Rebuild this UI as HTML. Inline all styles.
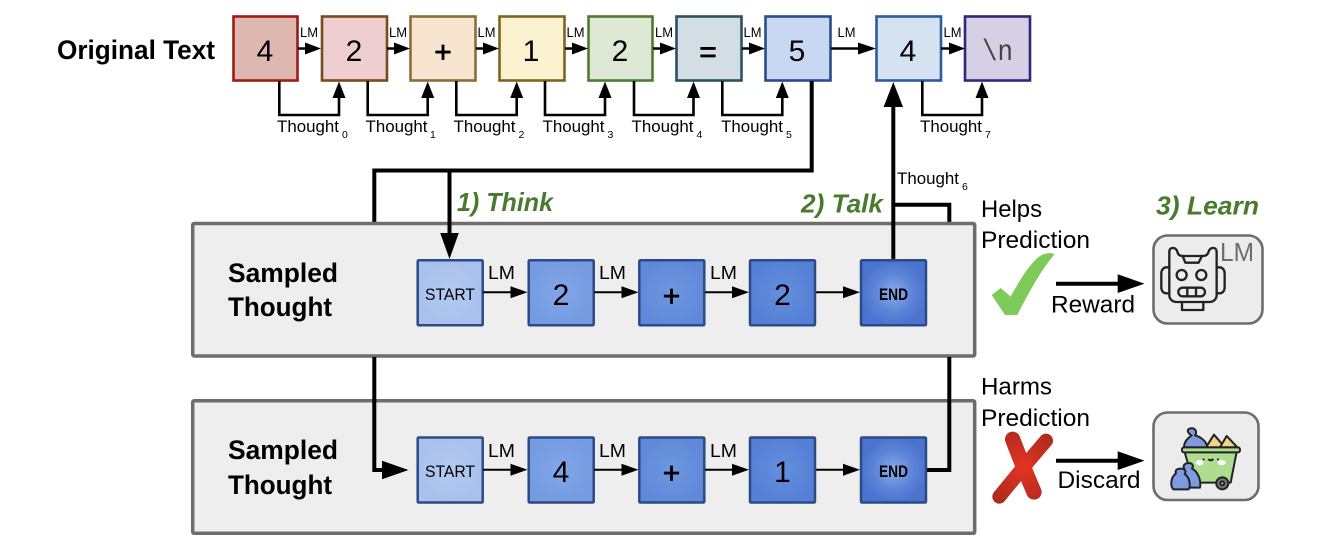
<!DOCTYPE html>
<html><head><meta charset="utf-8"><style>
html,body{margin:0;padding:0;background:#fff}
svg{display:block}
text{font-family:"Liberation Sans",sans-serif;fill:#000}
.d{font-size:30px;text-anchor:middle}
.o{stroke:#000;stroke-width:.7px}
.t{font-size:17px}
.s{font-size:10.5px}
.l{font-size:14px}
.m{font-size:18px}
.b{font-size:27px;font-weight:bold}
.g{font-size:26px;font-weight:bold;font-style:italic;fill:#4a7a2e}
.p{font-size:24px}
.in{stroke:#2c4a85;stroke-width:2.5}
</style></head><body>
<svg width="1322" height="560" viewBox="0 0 1322 560" xmlns="http://www.w3.org/2000/svg">
<defs>
<radialGradient id="g0"><stop offset="0" stop-color="#b4caf0"/><stop offset="1" stop-color="#a8c1ed"/></radialGradient>
<radialGradient id="g1"><stop offset="0" stop-color="#82a6e7"/><stop offset="1" stop-color="#759be2"/></radialGradient>
<radialGradient id="g2"><stop offset="0" stop-color="#6e97e0"/><stop offset="1" stop-color="#6089d9"/></radialGradient>
<radialGradient id="g3"><stop offset="0" stop-color="#6490de"/><stop offset="1" stop-color="#5580d6"/></radialGradient>
<radialGradient id="g4"><stop offset="0" stop-color="#8aabe9"/><stop offset=".6" stop-color="#5c84d8"/><stop offset="1" stop-color="#4a74cf"/></radialGradient>
<radialGradient id="xg" gradientUnits="userSpaceOnUse" cx="190" cy="322" r="130"><stop offset="0" stop-color="#e43323"/><stop offset="1" stop-color="#ac2a1c"/></radialGradient>
</defs>

<text class="b" x="57" y="59" textLength="158" lengthAdjust="spacingAndGlyphs">Original Text</text>

<!-- top boxes -->
<g stroke-width="2.6">
<rect x="233.500" y="16.500" width="64" height="64" fill="#deb8b0" stroke="#9c1c14"/>
<rect x="322" y="16.500" width="65" height="64" fill="#eecece" stroke="#7a4a22"/>
<rect x="410.500" y="16.500" width="65" height="64" fill="#f8e5cf" stroke="#8a6d3a"/>
<rect x="499.500" y="16.500" width="65" height="64" fill="#fdf2cf" stroke="#7f6321"/>
<rect x="588.500" y="16.500" width="64" height="64" fill="#dde9d4" stroke="#4e7a35"/>
<rect x="676.500" y="16.500" width="65" height="64" fill="#d3dee4" stroke="#2c5160"/>
<rect x="765.500" y="16.500" width="65" height="64" fill="#c9d8f2" stroke="#2b4c8c"/>
<rect x="876.500" y="16.500" width="64.500" height="64" fill="#d4e2f1" stroke="#2d5c9a"/>
<rect x="965" y="16.500" width="65" height="64" fill="#d6d0e4" stroke="#35247a"/>
</g>
<text class="d" x="265" y="61">4</text>
<text class="d" x="354" y="61">2</text>
<text class="d o" x="443" y="62">+</text>
<text class="d" x="531" y="61">1</text>
<text class="d" x="620" y="61">2</text>
<text class="d o" x="708" y="62">=</text>
<text class="d" x="797" y="61">5</text>
<text class="d" x="908" y="61">4</text>
<text x="982" y="60" font-size="30" style="fill:#444;font-family:'Liberation Mono',monospace" textLength="31" lengthAdjust="spacingAndGlyphs">\n</text>

<!-- top LM arrows -->
<g stroke="#000" stroke-width="2.6" fill="#000">
<path d="M298 48.500H310M387 48.500H399M476 48.500H487M565 48.500H576M653 48.500H665M742 48.500H754M831 48.500H860M941 48.500H953" fill="none"/>
<g stroke="none">
<path d="M321 48.500L305 42.500V54.500Z"/><path d="M410 48.500L394 42.500V54.500Z"/><path d="M499 48.500L483 42.500V54.500Z"/>
<path d="M588 48.500L572 42.500V54.500Z"/><path d="M676 48.500L660 42.500V54.500Z"/><path d="M765 48.500L749 42.500V54.500Z"/>
<path d="M876 48.500L858 42.500V54.500Z"/><path d="M965 48.500L949 42.500V54.500Z"/>
</g></g>
<g>
<text class="l" x="300" y="37" textLength="18" lengthAdjust="spacingAndGlyphs">LM</text>
<text class="l" x="389" y="37" textLength="18" lengthAdjust="spacingAndGlyphs">LM</text>
<text class="l" x="477.500" y="37" textLength="18" lengthAdjust="spacingAndGlyphs">LM</text>
<text class="l" x="566.500" y="37" textLength="18" lengthAdjust="spacingAndGlyphs">LM</text>
<text class="l" x="655" y="37" textLength="18" lengthAdjust="spacingAndGlyphs">LM</text>
<text class="l" x="743.500" y="37" textLength="18" lengthAdjust="spacingAndGlyphs">LM</text>
<text class="l" x="837.500" y="37" textLength="18" lengthAdjust="spacingAndGlyphs">LM</text>
<text class="l" x="943.500" y="37" textLength="18" lengthAdjust="spacingAndGlyphs">LM</text>
</g>

<!-- thought connectors -->
<g fill="none" stroke="#000" stroke-width="2.6">
<path d="M279.300 81V115H339V96"/><path d="M367.700 81V115H427.700V96"/><path d="M456.300 81V115H516.700V96"/>
<path d="M545 81V115H605V96"/><path d="M634 81V115H693.500V96"/><path d="M722.300 81V115H782.300V96"/>
<path d="M922.300 81V115H982V96"/>
</g>
<g fill="#000">
<path d="M339 81.500L332.500 98H345.500Z"/><path d="M427.700 81.500L421.200 98H434.200Z"/><path d="M516.700 81.500L510.200 98H523.200Z"/>
<path d="M605 81.500L598.500 98H611.500Z"/><path d="M693.500 81.500L687 98H700Z"/><path d="M782.300 81.500L775.800 98H788.800Z"/>
<path d="M982 81.500L975.500 98H988.500Z"/>
</g>
<g>
<text class="t" x="277" y="132" textLength="62" lengthAdjust="spacingAndGlyphs">Thought</text><text class="s" x="342" y="138">0</text>
<text class="t" x="365.500" y="132" textLength="62" lengthAdjust="spacingAndGlyphs">Thought</text><text class="s" x="430" y="138">1</text>
<text class="t" x="453.500" y="132" textLength="62" lengthAdjust="spacingAndGlyphs">Thought</text><text class="s" x="518.500" y="138">2</text>
<text class="t" x="542.500" y="132" textLength="62" lengthAdjust="spacingAndGlyphs">Thought</text><text class="s" x="607.500" y="138">3</text>
<text class="t" x="631.500" y="132" textLength="62" lengthAdjust="spacingAndGlyphs">Thought</text><text class="s" x="696.500" y="138">4</text>
<text class="t" x="721" y="132" textLength="62" lengthAdjust="spacingAndGlyphs">Thought</text><text class="s" x="786" y="138">5</text>
<text class="t" x="920" y="132" textLength="62" lengthAdjust="spacingAndGlyphs">Thought</text><text class="s" x="985" y="138">7</text>
<text class="t" x="897" y="184" textLength="62" lengthAdjust="spacingAndGlyphs">Thought</text><text class="s" x="962" y="190">6</text>
</g>

<!-- thick lines behind panels -->
<g fill="none" stroke="#000" stroke-width="4">
<path d="M811.700 81V170.500H374.300V224"/>
<path d="M893.300 204.700H949.300V224"/>
</g>

<!-- panels -->
<rect x="192.700" y="223.500" width="782" height="132.500" rx="1.500" fill="#eeeeee" stroke="#6d6d6d" stroke-width="3.500"/>
<rect x="192.700" y="400.800" width="782" height="132.500" rx="1.500" fill="#eeeeee" stroke="#6d6d6d" stroke-width="3.500"/>

<text class="b" x="228" y="282" textLength="110" lengthAdjust="spacingAndGlyphs">Sampled</text>
<text class="b" x="228" y="316" textLength="104" lengthAdjust="spacingAndGlyphs">Thought</text>
<text class="b" x="228" y="459" textLength="110" lengthAdjust="spacingAndGlyphs">Sampled</text>
<text class="b" x="228" y="494" textLength="104" lengthAdjust="spacingAndGlyphs">Thought</text>

<!-- inner boxes -->
<g class="in">
<rect x="417.700" y="260.300" width="65" height="65" rx="1" fill="url(#g0)"/>
<rect x="528.700" y="260.300" width="65" height="65" rx="1" fill="url(#g1)"/>
<rect x="639.300" y="260.300" width="65" height="65" rx="1" fill="url(#g2)"/>
<rect x="750" y="260.300" width="65" height="65" rx="1" fill="url(#g3)"/>
<rect x="861" y="260.300" width="65" height="65" rx="1" fill="url(#g4)"/>
<rect x="417.700" y="437.500" width="65" height="65" rx="1" fill="url(#g0)"/>
<rect x="528.700" y="437.500" width="65" height="65" rx="1" fill="url(#g1)"/>
<rect x="639.300" y="437.500" width="65" height="65" rx="1" fill="url(#g2)"/>
<rect x="750" y="437.500" width="65" height="65" rx="1" fill="url(#g3)"/>
<rect x="861" y="437.500" width="65" height="65" rx="1" fill="url(#g4)"/>
</g>
<text x="425" y="300" font-size="17" textLength="50" lengthAdjust="spacingAndGlyphs">START</text>
<text class="d" x="561" y="305">2</text>
<text class="d o" x="671.500" y="306">+</text>
<text class="d" x="782.500" y="305">2</text>
<text x="879" y="300" font-size="17" font-weight="bold" textLength="29" lengthAdjust="spacingAndGlyphs">END</text>
<text x="425" y="477" font-size="17" textLength="50" lengthAdjust="spacingAndGlyphs">START</text>
<text class="d" x="561" y="482">4</text>
<text class="d o" x="671.500" y="483">+</text>
<text class="d" x="782.500" y="482">1</text>
<text x="879" y="477" font-size="17" font-weight="bold" textLength="29" lengthAdjust="spacingAndGlyphs">END</text>

<!-- inner arrows -->
<g stroke="#000" stroke-width="2" fill="none">
<path d="M483 292.300H515M594 292.300H626M705 292.300H737M816 292.300H848"/>
<path d="M483 469.700H515M594 469.700H626M705 469.700H737M816 469.700H848"/>
</g>
<g fill="#000">
<path d="M527.500 292.300L510.500 286.300V298.300Z"/><path d="M638.500 292.300L621.500 286.300V298.300Z"/><path d="M749 292.300L732 286.300V298.300Z"/><path d="M860 292.300L843 286.300V298.300Z"/>
<path d="M527.500 469.700L510.500 463.700V475.700Z"/><path d="M638.500 469.700L621.500 463.700V475.700Z"/><path d="M749 469.700L732 463.700V475.700Z"/><path d="M860 469.700L843 463.700V475.700Z"/>
</g>
<g>
<text class="m" x="488" y="279" textLength="27" lengthAdjust="spacingAndGlyphs">LM</text>
<text class="m" x="599" y="279" textLength="27" lengthAdjust="spacingAndGlyphs">LM</text>
<text class="m" x="710" y="279" textLength="27" lengthAdjust="spacingAndGlyphs">LM</text>
<text class="m" x="488" y="457" textLength="27" lengthAdjust="spacingAndGlyphs">LM</text>
<text class="m" x="599" y="457" textLength="27" lengthAdjust="spacingAndGlyphs">LM</text>
<text class="m" x="710" y="457" textLength="27" lengthAdjust="spacingAndGlyphs">LM</text>
</g>

<!-- thick lines over panels -->
<g fill="none" stroke="#000" stroke-width="4">
<path d="M449.500 170.500V236"/>
<path d="M893.300 259V105"/>
<path d="M374.300 357V470H386"/>
<path d="M949.300 357V470H927"/>
</g>
<g fill="#000">
<path d="M449.500 259L440.200 233H458.800Z"/>
<path d="M893.300 82L883.600 107H903Z"/>
<path d="M408.500 470L382 460.700V479.300Z"/>
</g>

<text class="g" x="457" y="211" textLength="96" lengthAdjust="spacingAndGlyphs">1) Think</text>
<text class="g" x="801" y="212.500" textLength="82" lengthAdjust="spacingAndGlyphs">2) Talk</text>
<text class="g" x="1156" y="214.500" textLength="103" lengthAdjust="spacingAndGlyphs">3) Learn</text>

<text class="p" x="981" y="217" textLength="61" lengthAdjust="spacingAndGlyphs">Helps</text>
<text class="p" x="981" y="248" textLength="109" lengthAdjust="spacingAndGlyphs">Prediction</text>
<text class="p" x="981" y="394.500" textLength="71" lengthAdjust="spacingAndGlyphs">Harms</text>
<text class="p" x="981" y="426" textLength="109" lengthAdjust="spacingAndGlyphs">Prediction</text>
<text class="p" x="1051" y="312.500" textLength="84" lengthAdjust="spacingAndGlyphs">Reward</text>
<text class="p" x="1057.500" y="488" textLength="83" lengthAdjust="spacingAndGlyphs">Discard</text>

<!-- reward / discard arrows -->
<path d="M1056 283.700H1120M1056 460.700H1120" stroke="#000" stroke-width="4" fill="none"/>
<path d="M1144.500 283.700L1117.700 274.300V293Z"/>
<path d="M1144.500 460.700L1117.700 451.300V470Z"/>

<!-- check -->
<g transform="translate(960,180) scale(.3333)">
<path d="M95 345L122 324L152 350C180 300 205 255 240 228C255 219 272 217 284 222C240 275 205 340 172 405L135 405C122 385 108 365 95 345Z" fill="#7ecb5a"/>
</g>
<!-- X -->
<g transform="translate(960,360) scale(.3333)" fill="none" stroke="url(#xg)" stroke-linecap="round">
<path d="M158 238Q185 310 222 396" stroke-width="46"/>
<path d="M258 242Q195 315 118 410" stroke-width="42"/>
</g>

<!-- robot panel -->
<rect x="1153.500" y="235.500" width="109" height="88" rx="14" fill="#ececec" stroke="#6d6d6d" stroke-width="2.600"/>
<text x="1220" y="261" font-size="26" style="fill:#6d6d6d" textLength="34" lengthAdjust="spacingAndGlyphs">LM</text>
<g transform="translate(960,180) scale(.3333)" fill="none" stroke="#222" stroke-width="7" stroke-linejoin="round" stroke-linecap="round">
<path d="M628 240V215C628 200 648 200 652 215C654 224 660 228 668 228H728C738 228 744 224 746 215C750 200 770 200 770 215V345C770 358 760 366 748 366H650C638 366 628 358 628 345Z"/>
<path d="M668 228L676 248H716L726 228"/>
<path d="M628 262H620C610 262 604 270 604 280V322C604 332 610 340 620 340H628"/>
<path d="M770 262H778C788 262 794 270 794 280V322C794 332 788 340 778 340H770"/>
<circle cx="665" cy="285" r="15"/><circle cx="724" cy="285" r="15"/>
<rect x="655" y="323" width="80" height="26" rx="13"/>
<path d="M682 323V349M708 323V349"/>
<path d="M666 366V390H730V366"/>
</g>

<!-- bin panel -->
<rect x="1153.500" y="412.500" width="105" height="87.500" rx="14" fill="#ececec" stroke="#6d6d6d" stroke-width="2.600"/>
<g transform="translate(960,360) scale(.3333)" stroke="#222" stroke-width="6" stroke-linejoin="round">
<path d="M738 262L762 224L795 262Z" fill="#f0d48a"/>
<path d="M780 262L800 228L832 262Z" fill="#f0d48a"/>
<path d="M672 262C672 240 690 230 695 226C680 218 680 206 692 205C708 203 712 218 705 226C725 232 740 245 742 262Z" fill="#7d9be0"/>
<path d="M674 276L700 368H812L830 276Z" fill="#aedc90"/>
<rect x="666" y="262" width="174" height="15" rx="6" fill="#aedc90"/>
<ellipse cx="719" cy="308" rx="12" ry="8" fill="#fff" stroke="none"/>
<ellipse cx="785" cy="308" rx="12" ry="8" fill="#fff" stroke="none"/>
<circle cx="731" cy="298" r="3" fill="#222" stroke="none"/>
<circle cx="774" cy="298" r="3" fill="#222" stroke="none"/>
<path d="M745 297Q752 305 760 297" fill="none"/>
<circle cx="787" cy="370" r="18" fill="#777"/><circle cx="787" cy="370" r="6" fill="#ccc"/>
<path d="M672 324C668 316 676 309 686 309C698 309 702 318 696 326C716 336 724 365 720 383H680Z" fill="#7d9be0"/>
<path d="M648 340C644 330 652 326 662 326C674 326 680 332 674 342C690 352 692 378 686 388H640C630 378 632 352 648 340Z" fill="#7d9be0"/>
</g>
</svg>
</body></html>
